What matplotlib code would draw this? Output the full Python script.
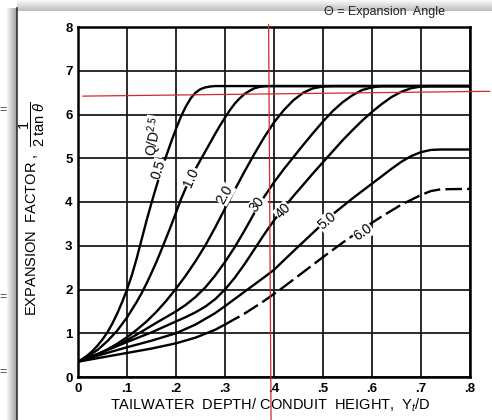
import numpy as np
import matplotlib
matplotlib.use('Agg')
import matplotlib.pyplot as plt

plt.rcParams['font.family'] = ['Liberation Sans', 'DejaVu Sans']
plt.rcParams['mathtext.fontset'] = 'custom'
plt.rcParams['mathtext.rm'] = 'Liberation Sans'
plt.rcParams['mathtext.it'] = 'Liberation Sans:italic'

# Curves: x = Yt/D, y = 1/(2 tan theta)
x_05 = [0, 0.01, 0.02, 0.03, 0.04, 0.05, 0.06, 0.07, 0.08, 0.09, 0.10, 0.11, 0.12, 0.13, 0.14,
        0.15, 0.16, 0.17, 0.18, 0.19, 0.20, 0.21, 0.22, 0.23, 0.24, 0.25, 0.26, 0.27, 0.28, 0.8]
y_05 = [0.35, 0.42, 0.5, 0.6, 0.72, 0.86, 1.02, 1.22, 1.45, 1.71, 2.0, 2.33, 2.72, 3.15, 3.58,
        3.98, 4.36, 4.72, 5.05, 5.37, 5.67, 5.95, 6.18, 6.37, 6.5, 6.58, 6.62, 6.64, 6.65, 6.65]

x_10 = [0, 0.02, 0.04, 0.06, 0.08, 0.10, 0.12, 0.13, 0.14, 0.15, 0.16, 0.17, 0.18, 0.19, 0.20,
        0.21, 0.22, 0.23, 0.24, 0.25, 0.26, 0.27, 0.28, 0.29, 0.30, 0.31, 0.32, 0.33, 0.34, 0.35,
        0.36, 0.37, 0.38, 0.39, 0.8]
y_10 = [0.35, 0.47, 0.62, 0.82, 1.06, 1.36, 1.72, 1.92, 2.14, 2.38, 2.63, 2.9, 3.18, 3.46, 3.76,
        4.06, 4.32, 4.55, 4.76, 4.96, 5.16, 5.36, 5.56, 5.75, 5.93, 6.1, 6.25, 6.37, 6.47, 6.54,
        6.6, 6.63, 6.645, 6.65, 6.65]

x_20 = [0, 0.02, 0.04, 0.06, 0.08, 0.10, 0.12, 0.14, 0.16, 0.18, 0.20, 0.22, 0.24, 0.26, 0.28,
        0.30, 0.32, 0.34, 0.36, 0.38, 0.40, 0.42, 0.44, 0.46, 0.48, 0.50, 0.52, 0.8]
y_20 = [0.35, 0.43, 0.52, 0.63, 0.76, 0.91, 1.08, 1.27, 1.49, 1.74, 2.02, 2.32, 2.65, 3.01, 3.42,
        3.85, 4.28, 4.7, 5.1, 5.48, 5.82, 6.1, 6.33, 6.5, 6.6, 6.64, 6.65, 6.65]

x_30 = [0, 0.04, 0.08, 0.12, 0.16, 0.20, 0.22, 0.24, 0.26, 0.28, 0.30, 0.32, 0.34, 0.36, 0.38,
        0.40, 0.42, 0.44, 0.46, 0.48, 0.50, 0.52, 0.54, 0.56, 0.58, 0.60, 0.62, 0.8]
y_30 = [0.35, 0.52, 0.72, 0.97, 1.24, 1.5, 1.65, 1.83, 2.05, 2.32, 2.63, 2.97, 3.35, 3.75, 4.12,
        4.45, 4.75, 5.03, 5.31, 5.58, 5.84, 6.08, 6.28, 6.44, 6.56, 6.62, 6.65, 6.65]

x_40 = [0, 0.05, 0.10, 0.15, 0.20, 0.22, 0.24, 0.26, 0.28, 0.30, 0.32, 0.34, 0.36, 0.38, 0.40,
        0.42, 0.44, 0.46, 0.48, 0.50, 0.52, 0.54, 0.56, 0.58, 0.60, 0.62, 0.64, 0.66, 0.68, 0.70,
        0.72, 0.8]
y_40 = [0.35, 0.57, 0.8, 1.02, 1.27, 1.37, 1.48, 1.61, 1.78, 2.0, 2.27, 2.58, 2.92, 3.26, 3.58,
        3.87, 4.14, 4.4, 4.66, 4.91, 5.16, 5.41, 5.64, 5.86, 6.06, 6.24, 6.4, 6.52, 6.6, 6.64,
        6.65, 6.65]

x_50 = [0, 0.05, 0.10, 0.15, 0.20, 0.24, 0.28, 0.30, 0.34, 0.38, 0.40, 0.44, 0.48, 0.52, 0.56,
        0.60, 0.64, 0.66, 0.68, 0.70, 0.72, 0.74, 0.8]
y_50 = [0.35, 0.52, 0.68, 0.83, 1.0, 1.2, 1.46, 1.62, 1.95, 2.28, 2.45, 2.88, 3.3, 3.72, 4.08,
        4.42, 4.76, 4.92, 5.05, 5.14, 5.19, 5.2, 5.2]

x_60 = [0, 0.05, 0.10, 0.15, 0.20, 0.24, 0.28, 0.30, 0.34, 0.38, 0.42, 0.46, 0.50, 0.54, 0.58,
        0.62, 0.66, 0.70, 0.72, 0.74, 0.8]
y_60 = [0.35, 0.45, 0.55, 0.65, 0.77, 0.9, 1.08, 1.2, 1.45, 1.74, 2.06, 2.4, 2.74, 3.07, 3.38,
        3.67, 3.94, 4.16, 4.25, 4.29, 4.3]

curve_labels = ['0.5', '1.0', '2.0', '30', '40', '5.0', '6.0']

x_ticks = [0, 0.1, 0.2, 0.3, 0.4, 0.5, 0.6, 0.7, 0.8]
x_ticklabels = ['0', '.1', '.2', '.3', '.4', '.5', '.6', '.7', '.8']
y_ticks = [0, 1, 2, 3, 4, 5, 6, 7, 8]

fig = plt.figure(figsize=(4.92, 4.2), dpi=100)

# scan / screenshot frame behind the chart
bg = fig.add_axes([0, 0, 1, 1], zorder=-5)
bg.set_xlim(0, 492)
bg.set_ylim(420, 0)
bg.axis('off')
bg.imshow(np.linspace(0.96, 0.62, 20).reshape(1, -1), cmap='gray', vmin=0, vmax=1,
          extent=(7, 17, 420, 8), aspect='auto')
bg.imshow(np.linspace(0.98, 0.74, 20).reshape(-1, 1), cmap='gray', vmin=0, vmax=1,
          extent=(17, 492, 11, 0), aspect='auto')
bg.plot([17, 17], [8, 420], color='#333333', lw=1.2)
for yy in [110, 297, 372]:
    bg.text(3, yy, '=', fontsize=9, color='#444444', ha='center', va='center')
bg.text(384, 12, 'Θ = Expansion  Angle', fontsize=9, ha='center', va='center', color='#222222')

ax = fig.add_axes([78 / 492, 1 - 377 / 420, 392 / 492, 350 / 420])

lw = 1.7
for xs, ys in [(x_05, y_05), (x_10, y_10), (x_20, y_20), (x_30, y_30), (x_40, y_40), (x_50, y_50)]:
    ax.plot(xs, ys, color='black', lw=lw, solid_joinstyle='round', zorder=3)
# the 6.0 curve turns dashed beyond about .3
k = x_60.index(0.30)
ax.plot(x_60[:k + 1], y_60[:k + 1], color='black', lw=lw, solid_joinstyle='round', zorder=3)
ax.plot(x_60[k:], y_60[k:], color='black', lw=lw, dashes=(7, 2.2), zorder=3)

# curve labels, sitting on the lines
lab_pos = [(0.164, 4.75, 72), (0.232, 4.56, 66), (0.30, 4.18, 60), (0.366, 3.95, 52),
           (0.419, 3.79, 45), (0.508, 3.57, 40), (0.582, 3.3, 35)]
for (lx, ly, rot), txt in zip(lab_pos, curve_labels):
    ax.text(lx, ly, txt, rotation=rot, fontsize=10, ha='center', va='center', zorder=4,
            bbox=dict(facecolor='white', edgecolor='none', pad=0.4))
ax.text(0.156, 5.5, r'Q/D$^{2.5}$', rotation=80, fontsize=10, ha='center', va='center', zorder=4,
        bbox=dict(facecolor='white', edgecolor='none', pad=0.2))

ax.set_xlim(0, 0.8)
ax.set_ylim(0, 8)
ax.set_xticks(x_ticks)
ax.set_xticklabels(x_ticklabels)
ax.set_yticks(y_ticks)
ax.tick_params(length=0, labelsize=9.5, pad=4)
for lab in ax.get_xticklabels() + ax.get_yticklabels():
    lab.set_fontweight('bold')
ax.grid(True, color='#1a1a1a', lw=1.3)
ax.set_axisbelow(True)
for sp in ax.spines.values():
    sp.set_linewidth(1.8)

ax.set_xlabel('TAILWATER  DEPTH/ CONDUIT  HEIGHT,  Y$_{t}$/D', fontsize=10.5)
ax.xaxis.set_label_coords(0.49, -0.055)
ax.set_ylabel(r'EXPANSION  FACTOR ,  $\dfrac{1}{2\,\tan\,\theta}$', fontsize=10.5)
ax.yaxis.label.set_va('center')
ax.yaxis.set_label_coords(-0.118, 0.48)

# red guide lines drawn over the scan
ax.plot([0.01, 0.84], [6.42, 6.53], color='#d42a2a', lw=0.9, zorder=5, clip_on=False)
ax.plot([0.389, 0.394], [8.05, -1.0], color='#d42a2a', lw=0.9, zorder=5, clip_on=False)

fig.savefig('out.png', dpi=100)
